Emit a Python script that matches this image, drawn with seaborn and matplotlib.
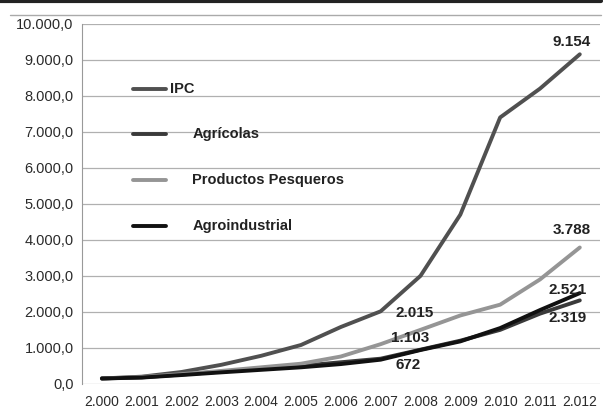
import matplotlib.pyplot as plt
import seaborn as sns
import pandas as pd
from matplotlib.lines import Line2D

sns.set_style('white')
plt.rcParams['font.family'] = ['Liberation Sans', 'DejaVu Sans']

years = list(range(2000, 2013))
year_labels = ['2.000', '2.001', '2.002', '2.003', '2.004', '2.005', '2.006',
               '2.007', '2.008', '2.009', '2.010', '2.011', '2.012']

ipc = [150, 200, 330, 530, 780, 1080, 1580, 2015, 3000, 4700, 7400, 8200, 9154]
agricolas = [150, 180, 260, 340, 420, 500, 600, 700, 950, 1200, 1500, 1950, 2319]
pesqueros = [150, 190, 270, 360, 460, 560, 760, 1103, 1500, 1900, 2200, 2900, 3788]
agroindustrial = [150, 175, 245, 320, 390, 460, 550, 672, 940, 1180, 1550, 2050, 2521]

series = ['IPC', 'Agrícolas', 'Productos Pesqueros', 'Agroindustrial']
colors = ['#505050', '#3a3a3a', '#959595', '#111111']

df = pd.DataFrame({
    'year': years * 4,
    'value': ipc + agricolas + pesqueros + agroindustrial,
    'serie': sum([[s] * len(years) for s in series], []),
})

fig = plt.figure(figsize=(6.07, 4.11), dpi=100)
ax = fig.add_axes([0.135, 0.066, 0.853, 0.876])

sns.lineplot(data=df, x='year', y='value', hue='serie', hue_order=series,
             palette=dict(zip(series, colors)), linewidth=2.8, ax=ax, legend=False)

ax.set_xlim(1999.5, 2012.5)
ax.set_ylim(0, 10000)
ax.set_xticks(years)
ax.set_xticklabels(year_labels, fontsize=10, color='#2a2a2a')
yt = list(range(0, 10001, 1000))
ax.set_yticks(yt)
ax.set_yticklabels([f'{v:,}'.replace(',', '.') + ',0' for v in yt], fontsize=10.5, color='#2a2a2a')
ax.yaxis.grid(True, color='#b0b0b0', linewidth=0.9)
ax.xaxis.grid(False)
ax.set_xlabel('')
ax.set_ylabel('')
for s in ['top', 'right', 'bottom']:
    ax.spines[s].set_visible(False)
ax.spines['left'].set_color('#999999')
ax.tick_params(axis='y', length=4, color='#999999', pad=2)
ax.tick_params(axis='x', length=0, pad=8)

# legend drawn inside the plot, as in the original
leg_y = [8200, 6950, 5650, 4380]
for lbl, c, yv in zip(series, colors, leg_y):
    ax.plot([2000.78, 2001.6], [yv, yv], color=c, linewidth=2.8)
    tx = 2001.7 if lbl == 'IPC' else 2002.27
    ax.text(tx, yv, lbl, fontsize=10.5, fontweight='bold', va='center', color='#222222')

labels = [(2011.8, 9500, '9.154'), (2011.8, 4280, '3.788'),
          (2011.7, 2620, '2.521'), (2011.7, 1830, '2.319'),
          (2007.85, 1970, '2.015'), (2007.75, 1280, '1.103'), (2007.7, 530, '672')]
for xv, yv, t in labels:
    ax.text(xv, yv, t, fontsize=11, fontweight='bold', va='center', ha='center', color='#222222')

fig.add_artist(Line2D([0, 0.99], [0.997, 0.997], color='#222222', linewidth=3, transform=fig.transFigure))
fig.add_artist(Line2D([0.017, 0.99], [0.963, 0.963], color='#aaaaaa', linewidth=1, transform=fig.transFigure))

fig.savefig('out.png', dpi=100)
